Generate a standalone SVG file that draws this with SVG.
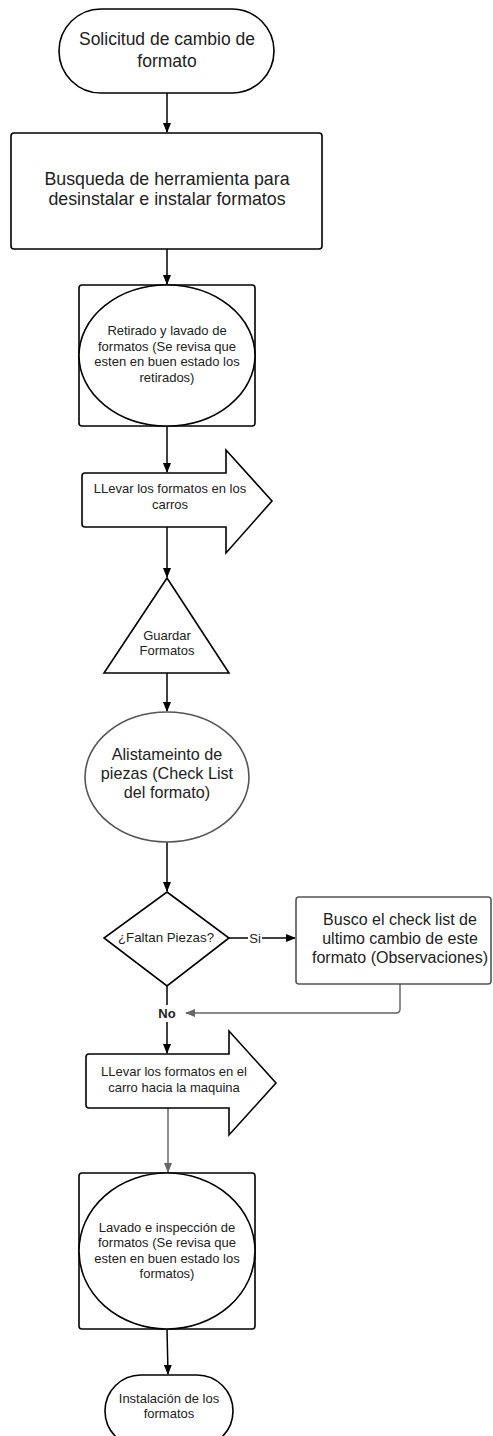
<svg xmlns="http://www.w3.org/2000/svg" width="493" height="1436" viewBox="0 0 493 1436">
<style>
.s{fill:#fff;stroke:#000;stroke-width:1.6}
.g{fill:#fff;stroke:#555;stroke-width:1.6}
.t{font-family:"Liberation Sans",Arial,sans-serif;fill:#222;text-anchor:middle}
.c{fill:none;stroke:#000;stroke-width:1.5}
.cg{fill:none;stroke:#666;stroke-width:1.5}
</style>
<defs>
<marker id="ab" markerWidth="10" markerHeight="10" refX="9" refY="5" orient="auto" markerUnits="userSpaceOnUse"><path d="M0,1 L10,5 L0,9 Z" fill="#000"/></marker>
<marker id="ag" markerWidth="10" markerHeight="10" refX="9" refY="5" orient="auto" markerUnits="userSpaceOnUse"><path d="M0,1 L10,5 L0,9 Z" fill="#666"/></marker>
</defs>
<rect width="493" height="1436" fill="#fff"/>
<g id="connectors">
<line class="c" x1="167" y1="93" x2="167" y2="132" marker-end="url(#ab)"/>
<line class="c" x1="167" y1="249" x2="167" y2="284" marker-end="url(#ab)"/>
<line class="c" x1="167" y1="426" x2="167" y2="472" marker-end="url(#ab)"/>
<line class="c" x1="167" y1="527" x2="167" y2="577" marker-end="url(#ab)"/>
<line class="c" x1="167" y1="673" x2="167" y2="711" marker-end="url(#ab)"/>
<line class="c" x1="167" y1="842" x2="167" y2="891" marker-end="url(#ab)"/>
<line class="c" x1="229" y1="938" x2="295" y2="938" marker-end="url(#ab)"/>
<rect x="248" y="930" width="14" height="16" fill="#fff"/>
<text class="t" x="255" y="943" font-size="13">Si</text>
<line class="c" x1="167" y1="986" x2="167" y2="1005"/>
<text class="t" x="167" y="1018" font-size="13" font-weight="bold" fill="#444">No</text>
<line class="c" x1="167" y1="1022" x2="167" y2="1053" marker-end="url(#ab)"/>
<path class="cg" d="M400,984 L400,1009 Q400,1013 396,1013 L186,1013" marker-end="url(#ag)"/>
<line class="cg" x1="168" y1="1108" x2="168" y2="1172" marker-end="url(#ag)"/>
<line class="c" x1="167" y1="1329" x2="168" y2="1374" marker-end="url(#ab)"/>
</g>
<g id="n1">
<rect class="s" x="59" y="9" width="215" height="84" rx="42"/>
<text class="t" x="167" y="45" font-size="17.5">Solicitud de cambio de</text>
<text class="t" x="167" y="67" font-size="17.5">formato</text>
</g>
<g id="n2">
<rect class="s" x="11" y="133" width="311" height="116" rx="3"/>
<text class="t" x="167" y="185" font-size="17.8">Busqueda de herramienta para</text>
<text class="t" x="167" y="205" font-size="17.8">desinstalar e instalar formatos</text>
</g>
<g id="n3">
<rect class="s" x="79" y="285" width="176" height="141" rx="3"/>
<ellipse class="s" cx="167" cy="355.5" rx="88" ry="70.5"/>
<text class="t" x="167" y="335" font-size="13">Retirado y lavado de</text>
<text class="t" x="167" y="351" font-size="13">formatos (Se revisa que</text>
<text class="t" x="167" y="366" font-size="13">esten en buen estado los</text>
<text class="t" x="167" y="382" font-size="13">retirados)</text>
</g>
<g id="n4">
<path class="s" d="M85,473 L226,473 L226,450 L272,501 L226,553 L226,527 L85,527 Q82,527 82,524 L82,476 Q82,473 85,473 Z"/>
<text class="t" x="170" y="493" font-size="13">LLevar los formatos en los</text>
<text class="t" x="170" y="509" font-size="13">carros</text>
</g>
<g id="n5">
<path class="s" d="M167,578 L229,673 L104,673 Z"/>
<text class="t" x="167" y="640" font-size="13">Guardar</text>
<text class="t" x="167" y="655" font-size="13">Formatos</text>
</g>
<g id="n6">
<ellipse class="g" cx="167" cy="777" rx="82" ry="65"/>
<text class="t" x="167" y="760" font-size="16.2" fill="#333">Alistameinto de</text>
<text class="t" x="167" y="779" font-size="16.2" fill="#333">piezas (Check List</text>
<text class="t" x="167" y="798" font-size="16.2" fill="#333">del formato)</text>
</g>
<g id="n7">
<path class="s" d="M167,892 L229,938 L167,986 L104,938 Z"/>
<text class="t" x="166" y="942" font-size="13.3">¿Faltan Piezas?</text>
</g>
<g id="n8">
<rect class="g" x="296" y="897" width="195" height="87" rx="3"/>
<text class="t" x="400" y="925" font-size="16" fill="#333">Busco el check list de</text>
<text class="t" x="400" y="944" font-size="16" fill="#333">ultimo cambio de este</text>
<text class="t" x="400" y="963" font-size="16" fill="#333">formato (Observaciones)</text>
</g>
<g id="n9">
<path class="s" d="M89,1054 L229,1054 L229,1031 L276,1083 L229,1135 L229,1108 L89,1108 Q86,1108 86,1105 L86,1057 Q86,1054 89,1054 Z"/>
<text class="t" x="174" y="1076" font-size="13">LLevar los formatos en el</text>
<text class="t" x="174" y="1092" font-size="13">carro hacia la maquina</text>
</g>
<g id="n10">
<rect class="s" x="79" y="1173" width="176" height="156" rx="3"/>
<ellipse class="s" cx="167" cy="1251" rx="88" ry="78"/>
<text class="t" x="167" y="1232" font-size="13">Lavado e inspección de</text>
<text class="t" x="167" y="1247" font-size="13">formatos (Se revisa que</text>
<text class="t" x="167" y="1263" font-size="13">esten en buen estado los</text>
<text class="t" x="167" y="1278" font-size="13">formatos)</text>
</g>
<g id="n11">
<rect class="s" x="105" y="1375" width="128" height="72" rx="36"/>
<text class="t" x="169" y="1403" font-size="13">Instalación de los</text>
<text class="t" x="169" y="1418" font-size="13">formatos</text>
</g>
</svg>
